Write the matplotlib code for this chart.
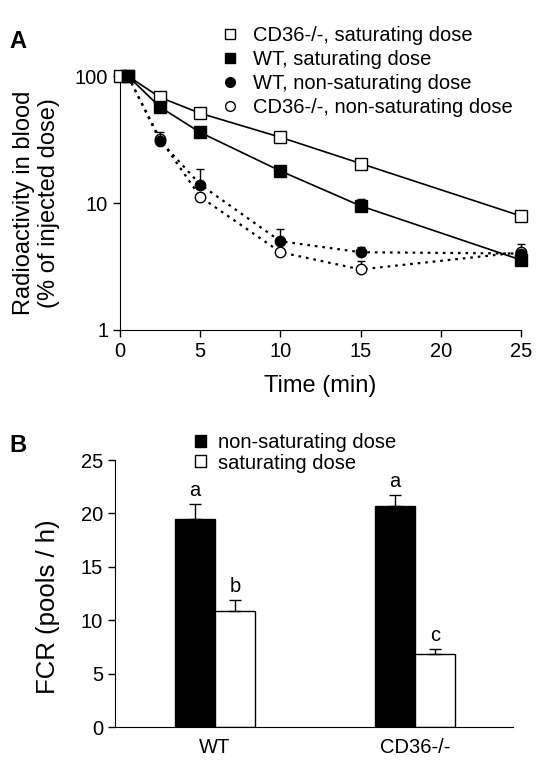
import numpy as np
import matplotlib.pyplot as plt

plt.rcParams['font.family'] = ['Liberation Sans', 'DejaVu Sans']
plt.rcParams['font.size'] = 14.5

# panel A data (radioactivity in blood, % of injected dose)
t_cd36_sat = [0, 0.5, 2.5, 5, 10, 15, 25]
cd36_sat = [100, 100, 68, 51, 33, 20.5, 7.9]
cd36_sat_err = [0, 0, 0, 0, 0, 0, 0]

t = [0.5, 2.5, 5, 10, 15, 25]
wt_sat = [100, 57, 36, 17.9, 9.5, 3.56]
wt_sat_err = [0, 0, 0, 1.5, 1.3, 0]
wt_nonsat = [100, 31, 14, 5.0, 4.1, 4.0]
wt_nonsat_err = [0, 5, 4.4, 1.2, 0.4, 0]
cd36_nonsat = [100, 32, 11.2, 4.1, 3.0, 4.1]
cd36_nonsat_err = [0, 0, 0, 0, 0.5, 0.7]

# panel B data (FCR)
groups = ['WT', 'CD36-/-']
fcr_nonsat = [19.5, 20.7]
fcr_nonsat_err = [1.4, 1.0]
fcr_sat = [10.9, 6.86]
fcr_sat_err = [1.0, 0.45]
letters_nonsat = ['a', 'a']
letters_sat = ['b', 'c']

fig = plt.figure(figsize=(5.42, 7.6), dpi=100)

# ---- panel A
ax = fig.add_axes([0.2214, 0.5658, 0.740, 0.334])
lw = 1.2
dots = (0, (1.2, 2.2))
ax.errorbar(t, cd36_nonsat, yerr=[np.zeros(len(t)), cd36_nonsat_err], fmt='o', ls=dots,
            color='black', mfc='white', mec='black', ms=7.5, lw=1.6, capsize=3, elinewidth=1,
            label='CD36-/-, non-saturating dose', clip_on=False, zorder=3)
ax.errorbar(t, wt_nonsat, yerr=[np.zeros(len(t)), wt_nonsat_err], fmt='o', ls=dots,
            color='black', mfc='black', mec='black', ms=7.5, lw=1.6, capsize=3, elinewidth=1,
            label='WT, non-saturating dose', clip_on=False, zorder=4)
ax.errorbar(t_cd36_sat, cd36_sat, yerr=[np.zeros(len(t_cd36_sat)), cd36_sat_err], fmt='s', ls='-',
            color='black', mfc='white', mec='black', ms=8.5, lw=lw, capsize=3, elinewidth=1,
            label='CD36-/-, saturating dose', clip_on=False, zorder=5)
ax.errorbar(t, wt_sat, yerr=[np.zeros(len(t)), wt_sat_err], fmt='s', ls='-',
            color='black', mfc='black', mec='black', ms=8.5, lw=lw, capsize=3, elinewidth=1,
            label='WT, saturating dose', clip_on=False, zorder=6)

ax.set_yscale('log')
ax.set_ylim(1, 100)
ax.set_xlim(0, 25)
ax.set_xticks([0, 5, 10, 15, 20, 25])
ax.set_yticks([1, 10, 100])
ax.set_yticklabels(['1', '10', '100'])
ax.yaxis.set_minor_locator(plt.NullLocator())
ax.spines['top'].set_visible(False)
ax.spines['right'].set_visible(False)
ax.tick_params(direction='out', length=5, width=1, labelsize=14.5)
ax.set_xlabel('Time (min)', fontsize=17, labelpad=10)
ax.set_ylabel('Radioactivity in blood\n(% of injected dose)', fontsize=17, linespacing=1.15)
ax.yaxis.set_label_coords(-0.15, 0.5)

h, l = ax.get_legend_handles_labels()
order = [2, 3, 1, 0]
h = [h[i][0] for i in order]
l = [l[i] for i in order]
leg = ax.legend(h, l, loc='upper left', bbox_to_anchor=(0.24, 1.228), frameon=False,
                handlelength=0.6, handletextpad=0.8, labelspacing=0.25, fontsize=14.5,
                borderaxespad=0)
for lh in leg.legend_handles:
    lh.set_linestyle('')
    lh.set_markersize(7)
fig.text(0.018, 0.937, 'A', fontsize=17, fontweight='bold')

# ---- panel B
bx = fig.add_axes([0.2122, 0.043, 0.7343, 0.3517])
x = np.arange(len(groups))
w = 0.2
bx.bar(x - w / 2, fcr_nonsat, w, color='black', edgecolor='black', lw=1,
       yerr=[np.zeros(2), fcr_nonsat_err], capsize=4, error_kw=dict(lw=1, capthick=1),
       label='non-saturating dose')
bx.bar(x + w / 2, fcr_sat, w, color='white', edgecolor='black', lw=1,
       yerr=[np.zeros(2), fcr_sat_err], capsize=4, error_kw=dict(lw=1, capthick=1),
       label='saturating dose')
for i in range(len(groups)):
    bx.text(x[i] - w / 2, fcr_nonsat[i] + fcr_nonsat_err[i] + 0.4, letters_nonsat[i],
            ha='center', va='bottom', fontsize=14.5)
    bx.text(x[i] + w / 2, fcr_sat[i] + fcr_sat_err[i] + 0.4, letters_sat[i],
            ha='center', va='bottom', fontsize=14.5)

bx.set_xlim(-0.5, 1.49)
bx.set_ylim(0, 25)
bx.set_yticks([0, 5, 10, 15, 20, 25])
bx.set_xticks(x)
bx.set_xticklabels(groups)
bx.spines['top'].set_visible(False)
bx.spines['right'].set_visible(False)
bx.tick_params(axis='y', direction='out', length=5, width=1, labelsize=14.5)
bx.tick_params(axis='x', length=0, labelsize=14.5, pad=8)
bx.set_ylabel('FCR (pools / h)', fontsize=18.5)
bx.yaxis.set_label_coords(-0.138, 0.452)
bx.legend(loc='upper left', bbox_to_anchor=(0.18, 1.13), frameon=False,
          handlelength=0.55, handleheight=0.55, handletextpad=0.6, labelspacing=0.06,
          fontsize=14.5, borderaxespad=0)
fig.text(0.018, 0.405, 'B', fontsize=17, fontweight='bold')

fig.savefig('out.png', dpi=100)
